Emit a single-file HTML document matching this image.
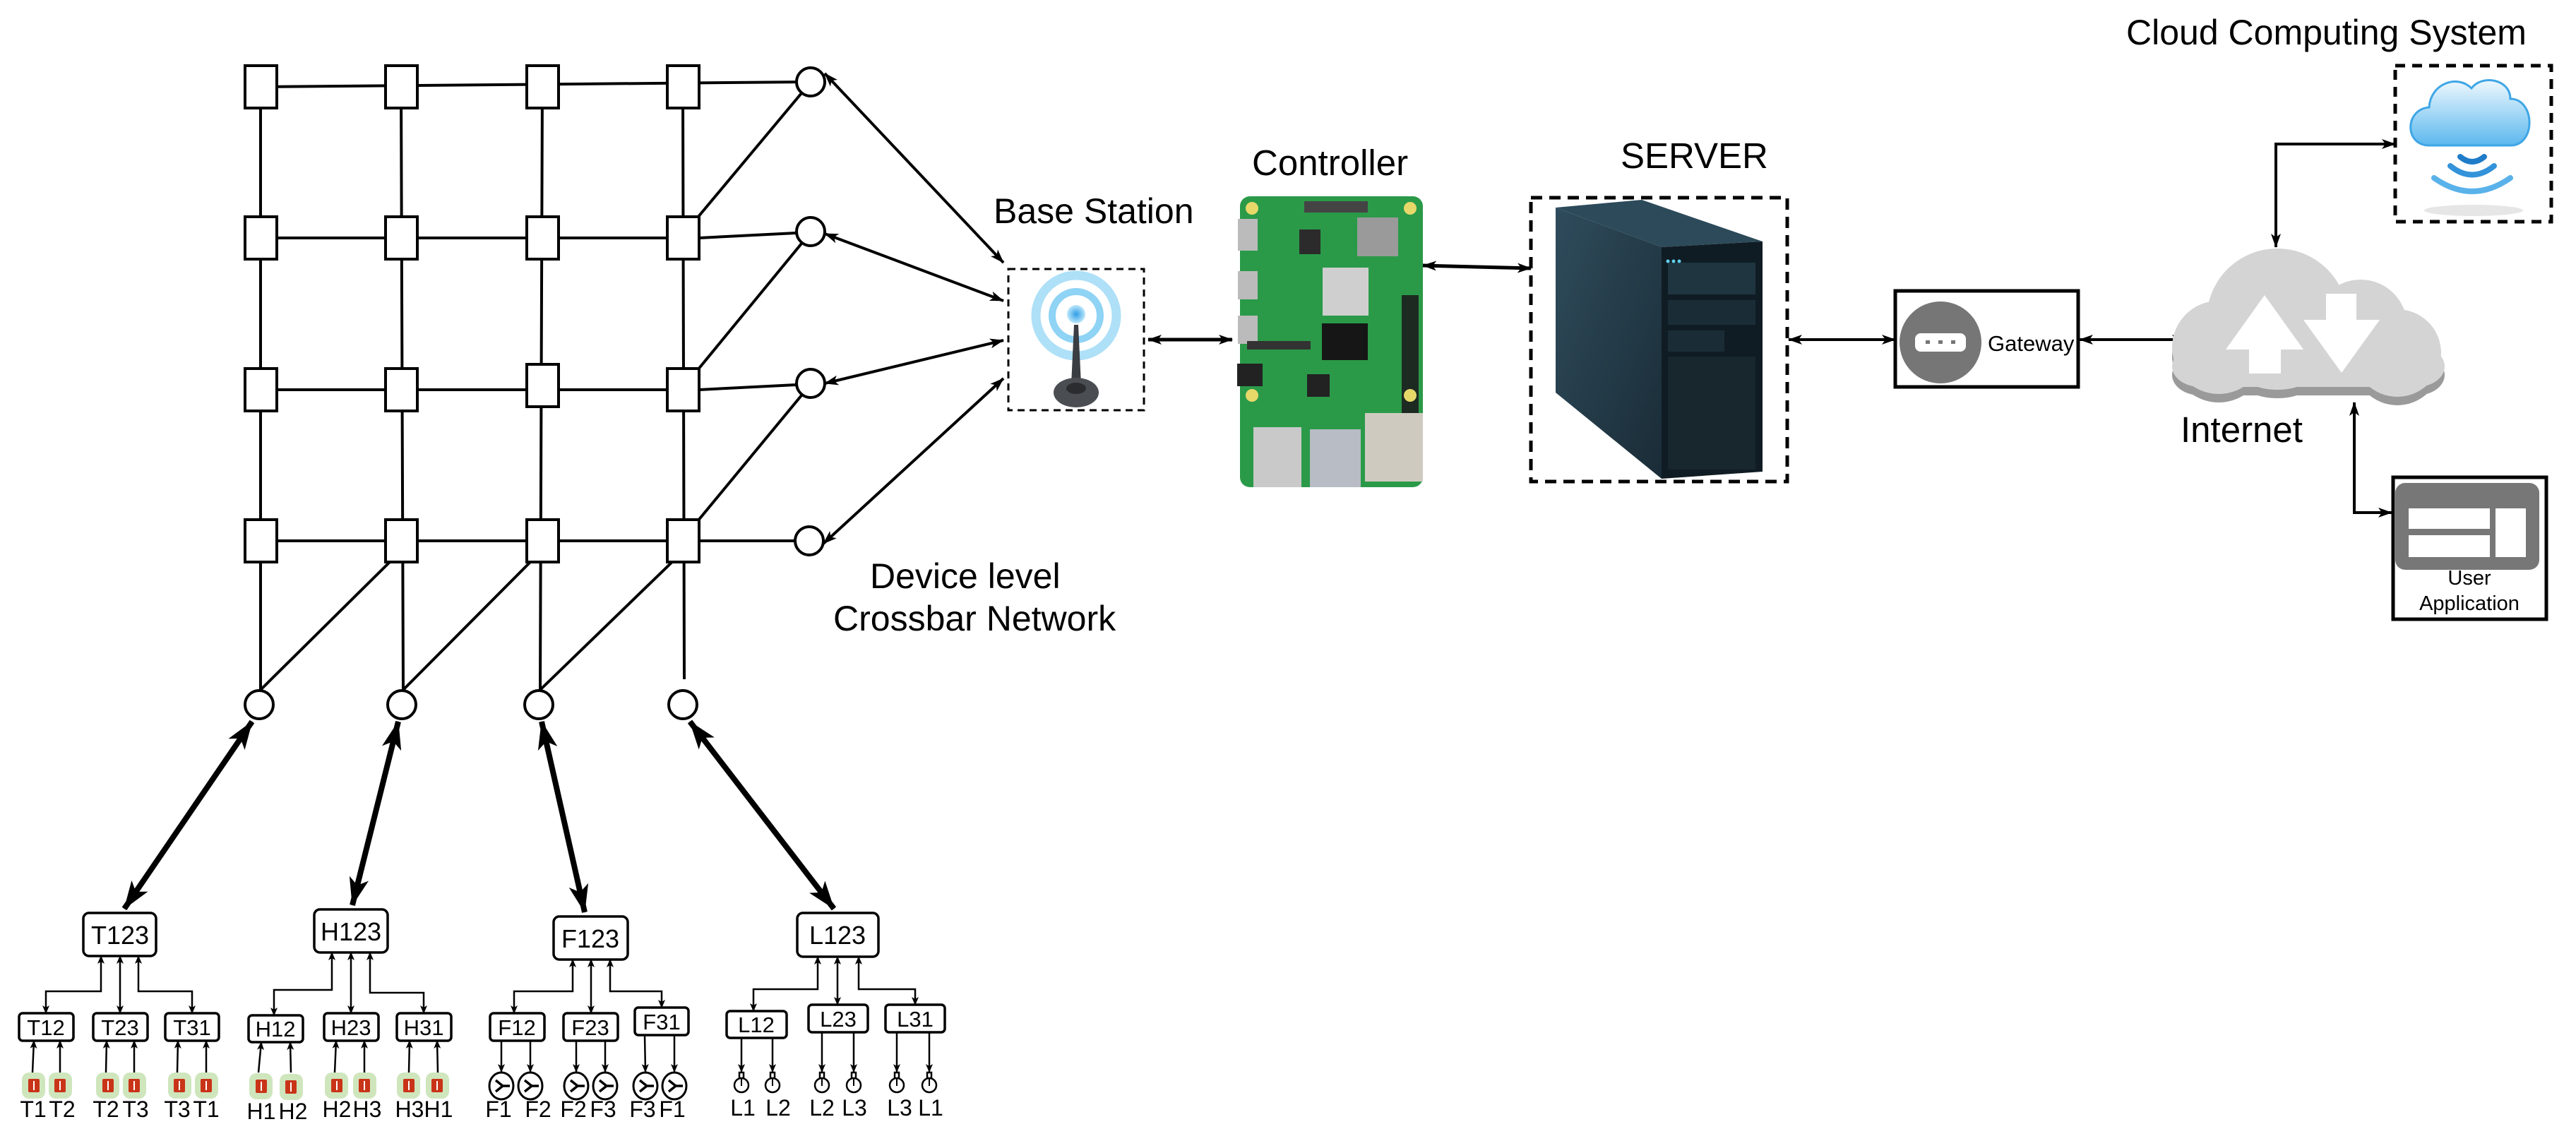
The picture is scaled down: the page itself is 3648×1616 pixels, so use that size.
<!DOCTYPE html>
<html><head><meta charset="utf-8"><style>
html,body{margin:0;padding:0;background:#fff}
svg{display:block}
text{font-family:"Liberation Sans",Arial,sans-serif;fill:#000}
</style></head><body>
<svg width="3648" height="1616" viewBox="0 0 3648 1616" xmlns="http://www.w3.org/2000/svg">
<defs>
<marker id="a" viewBox="0 0 20 14" refX="19" refY="7" markerWidth="20" markerHeight="14" markerUnits="userSpaceOnUse" orient="auto-start-reverse"><path d="M0,0 L20,7 L0,14 L5,7 z" fill="#000"/></marker>
<marker id="s" viewBox="0 0 12 10" refX="11" refY="5" markerWidth="12" markerHeight="10" markerUnits="userSpaceOnUse" orient="auto-start-reverse"><path d="M0,0 L12,5 L0,10 L3,5 z" fill="#000"/></marker>
<marker id="b" viewBox="0 0 40 28" refX="39" refY="14" markerWidth="40" markerHeight="28" markerUnits="userSpaceOnUse" orient="auto-start-reverse"><path d="M0,0 L40,14 L0,28 L10,14 z" fill="#000"/></marker>
<radialGradient id="ring" cx="50%" cy="50%" r="50%"><stop offset="0" stop-color="#2f9ee6"/><stop offset="1" stop-color="#bfe8fb"/></radialGradient>
<linearGradient id="side" x1="0" y1="0" x2="1" y2="1"><stop offset="0" stop-color="#2f4c5c"/><stop offset="1" stop-color="#1a2c37"/></linearGradient>
<linearGradient id="cl" x1="0" y1="0" x2="0" y2="1"><stop offset="0" stop-color="#eef8fe"/><stop offset="1" stop-color="#5cb8ee"/></linearGradient>
</defs>

<!-- crossbar lines -->
<g stroke="#000" stroke-width="4" fill="none">
<line x1="369" y1="123" x2="1147" y2="116"/>
<line x1="369" y1="337" x2="990" y2="337"/><line x1="990" y1="337" x2="1127" y2="330"/>
<line x1="369" y1="552" x2="990" y2="552"/><line x1="990" y1="552" x2="1127" y2="545"/>
<line x1="369" y1="766" x2="1147" y2="766"/>
<line x1="369" y1="123" x2="369" y2="978"/>
<line x1="568" y1="123" x2="571" y2="978"/>
<line x1="768" y1="123" x2="765" y2="978"/>
<line x1="967" y1="123" x2="969" y2="962"/>
<line x1="1135" y1="132" x2="988" y2="308"/>
<line x1="1135" y1="345" x2="988" y2="524"/>
<line x1="1135" y1="560" x2="988" y2="738"/>
<line x1="370" y1="976" x2="558" y2="790"/>
<line x1="572" y1="976" x2="757" y2="790"/>
<line x1="766" y1="976" x2="958" y2="790"/>
</g>
<g stroke="#000" stroke-width="4" fill="#fff">
<rect x="347" y="93" width="45" height="60"/><rect x="546" y="93" width="45" height="60"/><rect x="746" y="93" width="45" height="60"/><rect x="945" y="93" width="45" height="60"/>
<rect x="347" y="307" width="45" height="60"/><rect x="546" y="307" width="45" height="60"/><rect x="746" y="307" width="45" height="60"/><rect x="945" y="307" width="45" height="60"/>
<rect x="347" y="522" width="45" height="60"/><rect x="546" y="522" width="45" height="60"/><rect x="746" y="516" width="45" height="60"/><rect x="945" y="522" width="45" height="60"/>
<rect x="347" y="736" width="45" height="60"/><rect x="546" y="736" width="45" height="60"/><rect x="746" y="736" width="45" height="60"/><rect x="945" y="736" width="45" height="60"/>
<circle cx="1148" cy="116" r="20"/><circle cx="1148" cy="328" r="20"/><circle cx="1148" cy="543" r="20"/><circle cx="1146" cy="766" r="20"/>
<circle cx="367" cy="998" r="20"/><circle cx="569" cy="998" r="20"/><circle cx="763" cy="998" r="20"/><circle cx="967" cy="998" r="20"/>
</g>

<!-- base station arrows -->
<g stroke="#000" stroke-width="4" fill="none">
<line x1="1168" y1="104" x2="1421" y2="372" marker-start="url(#a)" marker-end="url(#a)"/>
<line x1="1168" y1="331" x2="1421" y2="426" marker-start="url(#a)" marker-end="url(#a)"/>
<line x1="1168" y1="543" x2="1421" y2="482" marker-start="url(#a)" marker-end="url(#a)"/>
<line x1="1166" y1="770" x2="1421" y2="536" marker-start="url(#a)" marker-end="url(#a)"/>
<line x1="1626" y1="481" x2="1745" y2="481" stroke-width="5" marker-start="url(#a)" marker-end="url(#a)"/>
<line x1="2015" y1="376" x2="2168" y2="380" stroke-width="5" marker-start="url(#a)" marker-end="url(#a)"/>
<line x1="2533" y1="481" x2="2684" y2="481" stroke-width="4" marker-start="url(#a)" marker-end="url(#a)"/>
<line x1="2945" y1="481" x2="3095" y2="481" stroke-width="4" marker-start="url(#a)" marker-end="url(#a)"/>
<path d="M3223,350 V204 H3392" stroke-width="4" marker-start="url(#a)" marker-end="url(#a)"/>
<path d="M3334,570 V726 H3387" stroke-width="4" marker-start="url(#a)" marker-end="url(#a)"/>
</g>

<!-- thick arrows -->
<g stroke="#000" stroke-width="8" fill="none">
<line x1="357" y1="1022" x2="176" y2="1287" marker-start="url(#b)" marker-end="url(#b)"/>
<line x1="564" y1="1022" x2="499" y2="1282" marker-start="url(#b)" marker-end="url(#b)"/>
<line x1="767" y1="1022" x2="828" y2="1292" marker-start="url(#b)" marker-end="url(#b)"/>
<line x1="977" y1="1022" x2="1181" y2="1287" marker-start="url(#b)" marker-end="url(#b)"/>
</g>

<!-- labels -->
<text x="1407" y="316" font-size="50">Base Station</text>
<text x="1232" y="833" font-size="50">Device level</text>
<text x="1180" y="893" font-size="50">Crossbar Network</text>
<text x="1773" y="248" font-size="51">Controller</text>
<text x="2295" y="238" font-size="51">SERVER</text>
<text x="3011" y="63" font-size="50">Cloud Computing System</text>
<text x="3088" y="626" font-size="51">Internet</text>

<!-- base station -->
<rect x="1428" y="381" width="192" height="200" fill="none" stroke="#000" stroke-width="3" stroke-dasharray="10,7"/>
<circle cx="1524" cy="447" r="57" fill="none" stroke="#aee0f8" stroke-width="13"/>
<circle cx="1524" cy="447" r="34" fill="none" stroke="#8fd3f5" stroke-width="10"/>
<circle cx="1524" cy="445" r="13" fill="url(#ring)"/>
<path d="M1521,460 L1527,460 L1531,545 L1517,545 z" fill="#3a3d42"/>
<ellipse cx="1524" cy="556" rx="32" ry="21" fill="#4a4d52"/>
<ellipse cx="1524" cy="550" rx="14" ry="8" fill="#2a2c30"/>

<!-- raspberry pi -->
<rect x="1756" y="278" width="259" height="412" rx="14" fill="#2a9a48"/>
<rect x="1985" y="418" width="24" height="240" fill="#1d2a22"/>
<circle cx="1773" cy="295" r="9" fill="#e7d86a"/><circle cx="1997" cy="295" r="9" fill="#e7d86a"/>
<circle cx="1773" cy="560" r="9" fill="#e7d86a"/><circle cx="1997" cy="560" r="9" fill="#e7d86a"/>
<rect x="1847" y="285" width="90" height="16" fill="#444"/>
<rect x="1922" y="308" width="58" height="55" fill="#9a9a9a"/>
<rect x="1873" y="379" width="65" height="68" fill="#cfcfcf"/>
<rect x="1872" y="458" width="65" height="52" fill="#161616"/>
<rect x="1753" y="310" width="28" height="45" fill="#bbb"/>
<rect x="1753" y="384" width="28" height="40" fill="#bbb"/>
<rect x="1753" y="447" width="28" height="40" fill="#bbb"/>
<rect x="1766" y="483" width="90" height="12" fill="#333"/>
<rect x="1752" y="515" width="36" height="32" fill="#222"/>
<rect x="1851" y="530" width="32" height="32" fill="#222"/>
<rect x="1775" y="605" width="68" height="85" fill="#c9c9c9"/>
<rect x="1855" y="608" width="72" height="82" fill="#b8bcc4"/>
<rect x="1933" y="585" width="82" height="97" fill="#cfcac0"/>
<rect x="1840" y="325" width="30" height="35" fill="#2b2b2b"/>

<!-- server -->
<rect x="2168" y="280" width="363" height="402" fill="none" stroke="#000" stroke-width="5" stroke-dasharray="16,10"/>
<path d="M2203,294 L2325,283 L2496,342 L2353,350 z" fill="#2c4a5a"/>
<path d="M2203,294 L2353,350 L2353,678 L2203,556 z" fill="url(#side)"/>
<path d="M2353,350 L2496,342 L2496,668 L2353,678 z" fill="#101c23"/>
<rect x="2362" y="372" width="124" height="45" fill="#1f3641"/>
<rect x="2362" y="425" width="124" height="35" fill="#1a2d37"/>
<rect x="2362" y="468" width="80" height="30" fill="#1a2d37"/>
<rect x="2362" y="505" width="124" height="160" fill="#18262e"/>
<circle cx="2362" cy="370" r="2.5" fill="#5fd0f0"/><circle cx="2370" cy="370" r="2.5" fill="#5fd0f0"/><circle cx="2378" cy="370" r="2.5" fill="#5fd0f0"/>

<!-- gateway -->
<rect x="2684" y="412" width="259" height="136" fill="#fff" stroke="#000" stroke-width="5"/>
<circle cx="2748" cy="485" r="58" fill="#767676"/>
<rect x="2712" y="472" width="72" height="26" rx="8" fill="#fff"/>
<rect x="2727" y="482" width="6" height="5" fill="#767676"/><rect x="2745" y="482" width="6" height="5" fill="#767676"/><rect x="2763" y="482" width="6" height="5" fill="#767676"/>
<text x="2815" y="497" font-size="31">Gateway</text>

<!-- internet cloud -->
<g fill="#9a9a9a" transform="translate(0,12)">
<circle cx="3225" cy="452" r="100"/><circle cx="3343" cy="462" r="66"/><circle cx="3395" cy="500" r="62"/><circle cx="3142" cy="492" r="66"/>
<rect x="3076" y="490" width="386" height="58" rx="40"/>
</g>
<g fill="#d4d4d4">
<circle cx="3225" cy="452" r="100"/><circle cx="3343" cy="462" r="66"/><circle cx="3395" cy="500" r="62"/><circle cx="3142" cy="492" r="66"/>
<rect x="3076" y="490" width="386" height="58" rx="40"/>
</g>
<path d="M3207,418 L3262,495 L3230,495 L3230,529 L3185,529 L3185,495 L3152,495 z" fill="#fff"/>
<path d="M3294,416 L3337,416 L3337,453 L3370,453 L3316,528 L3262,453 L3294,453 z" fill="#fff"/>

<!-- cloud system -->
<rect x="3392" y="93" width="221" height="221" fill="none" stroke="#000" stroke-width="5" stroke-dasharray="14,10"/>
<ellipse cx="3503" cy="298" rx="70" ry="8" fill="#e6e6e6"/>
<g fill="url(#cl)" stroke="#3fa6e6" stroke-width="3">
<path d="M3440,206 C3405,206 3405,155 3440,152 C3442,118 3480,105 3500,125 C3515,105 3555,112 3555,140 C3590,140 3592,206 3555,206 z"/>
</g>
<g fill="none" stroke-linecap="round">
<path d="M3484,222 Q3501,236 3518,222" stroke="#1f7cc8" stroke-width="8"/>
<path d="M3470,235 Q3501,260 3532,235" stroke="#3393da" stroke-width="8"/>
<path d="M3447,252 Q3501,290 3555,252" stroke="#5ab2ea" stroke-width="8"/>
</g>

<!-- user application -->
<rect x="3389" y="676" width="217" height="201" fill="#fff" stroke="#000" stroke-width="5"/>
<rect x="3392" y="684" width="204" height="123" rx="14" fill="#777"/>
<rect x="3411" y="720" width="115" height="29" fill="#fff"/>
<rect x="3411" y="758" width="115" height="31" fill="#fff"/>
<rect x="3534" y="720" width="43" height="69" fill="#fff"/>
<text x="3497" y="828" font-size="29" text-anchor="middle">User</text>
<text x="3497" y="864" font-size="29" text-anchor="middle">Application</text>

<!-- tree connectors -->
<g stroke="#000" stroke-width="2.5" fill="none">
<!-- T -->
<path d="M143,1354 V1404 H65 V1435" marker-start="url(#s)" marker-end="url(#s)"/>
<path d="M170,1354 V1435" marker-start="url(#s)" marker-end="url(#s)"/>
<path d="M196,1354 V1404 H272 V1435" marker-start="url(#s)" marker-end="url(#s)"/>
<!-- H -->
<path d="M470,1349 V1402 H388 V1438" marker-start="url(#s)" marker-end="url(#s)"/>
<path d="M497,1349 V1435" marker-start="url(#s)" marker-end="url(#s)"/>
<path d="M524,1349 V1406 H600 V1435" marker-start="url(#s)" marker-end="url(#s)"/>
<!-- F -->
<path d="M811,1359 V1404 H728 V1435" marker-start="url(#s)" marker-end="url(#s)"/>
<path d="M837,1359 V1435" marker-start="url(#s)" marker-end="url(#s)"/>
<path d="M864,1359 V1404 H937 V1427" marker-start="url(#s)" marker-end="url(#s)"/>
<!-- L -->
<path d="M1158,1355 V1401 H1067 V1432" marker-start="url(#s)" marker-end="url(#s)"/>
<path d="M1186,1355 V1423" marker-start="url(#s)" marker-end="url(#s)"/>
<path d="M1216,1355 V1401 H1296 V1423" marker-start="url(#s)" marker-end="url(#s)"/>
<!-- leaf arrows up (T,H) -->
<path d="M46,1519 L48,1474" marker-end="url(#s)"/><path d="M85,1519 L85,1474" marker-end="url(#s)"/>
<path d="M150,1519 L151,1474" marker-end="url(#s)"/><path d="M190,1519 L190,1474" marker-end="url(#s)"/>
<path d="M251,1519 L252,1474" marker-end="url(#s)"/><path d="M292,1519 L292,1474" marker-end="url(#s)"/>
<path d="M366,1519 L370,1476" marker-end="url(#s)"/><path d="M412,1519 L411,1476" marker-end="url(#s)"/>
<path d="M474,1519 L476,1474" marker-end="url(#s)"/><path d="M516,1519 L516,1474" marker-end="url(#s)"/>
<path d="M579,1519 L580,1474" marker-end="url(#s)"/><path d="M620,1519 L619,1474" marker-end="url(#s)"/>
<!-- leaf arrows down (F,L) -->
<path d="M710,1474 L710,1518" marker-end="url(#s)"/><path d="M751,1474 L751,1518" marker-end="url(#s)"/>
<path d="M816,1474 L816,1518" marker-end="url(#s)"/><path d="M857,1474 L857,1518" marker-end="url(#s)"/>
<path d="M913,1466 L914,1518" marker-end="url(#s)"/><path d="M955,1466 L955,1518" marker-end="url(#s)"/>
<path d="M1050,1470 L1050,1518" marker-end="url(#s)"/><path d="M1094,1470 L1094,1518" marker-end="url(#s)"/>
<path d="M1164,1462 L1164,1518" marker-end="url(#s)"/><path d="M1209,1462 L1209,1518" marker-end="url(#s)"/>
<path d="M1270,1462 L1270,1518" marker-end="url(#s)"/><path d="M1316,1462 L1316,1518" marker-end="url(#s)"/>
</g>

<!-- tree boxes -->
<g stroke="#000" stroke-width="3.5" fill="#fff">
<rect x="118" y="1293" width="103" height="61" rx="8"/>
<rect x="445" y="1288" width="104" height="61" rx="8"/>
<rect x="784" y="1298" width="105" height="61" rx="8"/>
<rect x="1129" y="1293" width="115" height="62" rx="8"/>
<rect x="27" y="1435" width="77" height="39" rx="5"/><rect x="132" y="1435" width="77" height="39" rx="5"/><rect x="234" y="1435" width="76" height="39" rx="5"/>
<rect x="352" y="1438" width="77" height="38" rx="5"/><rect x="459" y="1435" width="77" height="39" rx="5"/><rect x="562" y="1435" width="77" height="39" rx="5"/>
<rect x="694" y="1435" width="77" height="39" rx="5"/><rect x="798" y="1435" width="77" height="39" rx="5"/><rect x="899" y="1427" width="76" height="39" rx="5"/>
<rect x="1029" y="1432" width="85" height="38" rx="5"/><rect x="1145" y="1423" width="84" height="39" rx="5"/><rect x="1254" y="1423" width="84" height="39" rx="5"/>
</g>
<g font-size="36" text-anchor="middle">
<text x="170" y="1337">T123</text><text x="497" y="1332">H123</text><text x="836" y="1342">F123</text><text x="1186" y="1337">L123</text>
</g>
<g font-size="31" text-anchor="middle">
<text x="65" y="1466">T12</text><text x="170" y="1466">T23</text><text x="272" y="1466">T31</text>
<text x="390" y="1468">H12</text><text x="497" y="1466">H23</text><text x="600" y="1466">H31</text>
<text x="732" y="1466">F12</text><text x="836" y="1466">F23</text><text x="937" y="1458">F31</text>
<text x="1071" y="1462">L12</text><text x="1187" y="1454">L23</text><text x="1296" y="1454">L31</text>
</g>

<!-- thermometer / humidity icons -->
<g>
<g fill="#cfe6bd"><rect x="31" y="1519" width="33" height="37" rx="10"/><rect x="69" y="1519" width="33" height="37" rx="10"/><rect x="136" y="1519" width="33" height="37" rx="10"/><rect x="174" y="1519" width="33" height="37" rx="10"/><rect x="238" y="1519" width="33" height="37" rx="10"/><rect x="276" y="1519" width="33" height="37" rx="10"/><rect x="353" y="1520" width="33" height="37" rx="10"/><rect x="396" y="1521" width="33" height="37" rx="10"/><rect x="460" y="1519" width="33" height="37" rx="10"/><rect x="500" y="1519" width="33" height="37" rx="10"/><rect x="562" y="1519" width="33" height="37" rx="10"/><rect x="603" y="1519" width="33" height="37" rx="10"/></g>
<g fill="#c93418"><rect x="40" y="1528" width="16" height="19" rx="2"/><rect x="77" y="1528" width="16" height="19" rx="2"/><rect x="145" y="1528" width="16" height="19" rx="2"/><rect x="182" y="1528" width="16" height="19" rx="2"/><rect x="246" y="1528" width="16" height="19" rx="2"/><rect x="284" y="1528" width="16" height="19" rx="2"/><rect x="362" y="1529" width="16" height="19" rx="2"/><rect x="404" y="1530" width="16" height="19" rx="2"/><rect x="469" y="1528" width="16" height="19" rx="2"/><rect x="508" y="1528" width="16" height="19" rx="2"/><rect x="571" y="1528" width="16" height="19" rx="2"/><rect x="611" y="1528" width="16" height="19" rx="2"/></g>
<g fill="#fff"><rect x="47" y="1531" width="2" height="13"/><rect x="84" y="1531" width="2" height="13"/><rect x="152" y="1531" width="2" height="13"/><rect x="189" y="1531" width="2" height="13"/><rect x="253" y="1531" width="2" height="13"/><rect x="291" y="1531" width="2" height="13"/><rect x="369" y="1532" width="2" height="13"/><rect x="411" y="1533" width="2" height="13"/><rect x="476" y="1531" width="2" height="13"/><rect x="515" y="1531" width="2" height="13"/><rect x="578" y="1531" width="2" height="13"/><rect x="618" y="1531" width="2" height="13"/></g>
</g>

<!-- fans -->
<g stroke="#000" stroke-width="3" fill="#fff">
<ellipse cx="710" cy="1538" rx="17" ry="19"/><ellipse cx="751" cy="1538" rx="17" ry="19"/><ellipse cx="816" cy="1538" rx="17" ry="19"/><ellipse cx="857" cy="1538" rx="17" ry="19"/><ellipse cx="914" cy="1538" rx="17" ry="19"/><ellipse cx="955" cy="1538" rx="17" ry="19"/>
</g>
<g stroke="#000" stroke-width="3.5" fill="none">
<path d="M702,1530 L712,1538 L702,1546 M712,1538 L722,1538"/><path d="M743,1530 L753,1538 L743,1546 M753,1538 L763,1538"/><path d="M808,1530 L818,1538 L808,1546 M818,1538 L828,1538"/><path d="M849,1530 L859,1538 L849,1546 M859,1538 L869,1538"/><path d="M906,1530 L916,1538 L906,1546 M916,1538 L926,1538"/><path d="M947,1530 L957,1538 L947,1546 M957,1538 L967,1538"/>
</g>
<!-- bulbs -->
<g stroke="#000" stroke-width="2.5" fill="#fff">
<circle cx="1050" cy="1537" r="10"/><circle cx="1094" cy="1537" r="10"/><circle cx="1164" cy="1537" r="10"/><circle cx="1209" cy="1537" r="10"/><circle cx="1270" cy="1537" r="10"/><circle cx="1316" cy="1537" r="10"/>
<rect x="1047" y="1519" width="6" height="8"/><rect x="1091" y="1519" width="6" height="8"/><rect x="1161" y="1519" width="6" height="8"/><rect x="1206" y="1519" width="6" height="8"/><rect x="1267" y="1519" width="6" height="8"/><rect x="1313" y="1519" width="6" height="8"/>
</g>
<g stroke="#000" stroke-width="2"><line x1="1050" y1="1527" x2="1050" y2="1538"/><line x1="1094" y1="1527" x2="1094" y2="1538"/><line x1="1164" y1="1527" x2="1164" y2="1538"/><line x1="1209" y1="1527" x2="1209" y2="1538"/><line x1="1270" y1="1527" x2="1270" y2="1538"/><line x1="1316" y1="1527" x2="1316" y2="1538"/></g>

<!-- leaf labels -->
<g font-size="32" text-anchor="middle">
<text x="47" y="1582">T1</text><text x="88" y="1582">T2</text><text x="150" y="1582">T2</text><text x="192" y="1582">T3</text><text x="251" y="1582">T3</text><text x="292" y="1582">T1</text>
<text x="370" y="1585">H1</text><text x="415" y="1585">H2</text><text x="477" y="1582">H2</text><text x="520" y="1582">H3</text><text x="580" y="1582">H3</text><text x="621" y="1582">H1</text>
<text x="706" y="1582">F1</text><text x="762" y="1582">F2</text><text x="812" y="1582">F2</text><text x="854" y="1582">F3</text><text x="910" y="1582">F3</text><text x="952" y="1582">F1</text>
<text x="1052" y="1580">L1</text><text x="1102" y="1580">L2</text><text x="1164" y="1580">L2</text><text x="1210" y="1580">L3</text><text x="1274" y="1580">L3</text><text x="1318" y="1580">L1</text>
</g>
</svg>
</body></html>
